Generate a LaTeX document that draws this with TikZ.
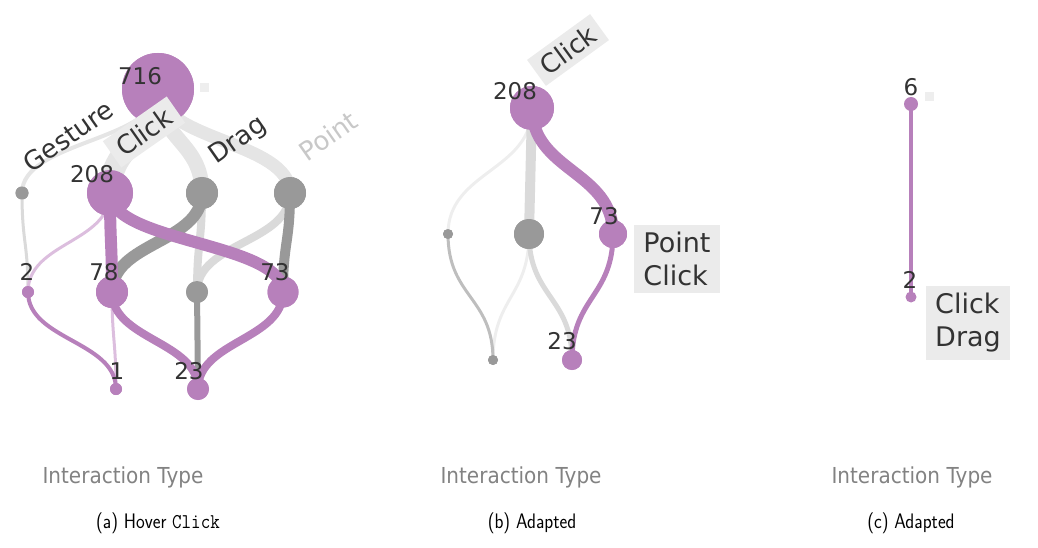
\documentclass[tikz,border=0pt]{standalone}
\usepackage{fontspec}
\newfontfamily\dejavu{DejaVu Sans}
\definecolor{purp}{RGB}{183,128,187}
\definecolor{lpurp}{RGB}{220,190,222}
\definecolor{dgrey}{RGB}{153,153,153}
\definecolor{mgrey}{RGB}{190,190,190}
\definecolor{lgrey}{RGB}{218,218,218}
\definecolor{band}{RGB}{229,229,229}
\definecolor{vlgrey}{RGB}{238,238,238}
\definecolor{boxbg}{RGB}{235,235,235}
\definecolor{txt}{RGB}{51,51,51}
\definecolor{ptxt}{RGB}{200,200,200}
\definecolor{axtxt}{RGB}{130,130,130}
\tikzset{
  nd/.style={circle, inner sep=0pt, draw=none},
  pn/.style={nd, fill=purp},
  gn/.style={nd, fill=dgrey},
  num/.style={font=\dejavu\fontsize{23}{23}\selectfont, text=txt, inner sep=0pt},
  lbl/.style={font=\dejavu\fontsize{26}{32}\selectfont, text=txt, inner sep=5pt},
  lbox/.style={font=\dejavu\fontsize{27}{33}\selectfont, text=txt, fill=boxbg, align=left, inner xsep=9pt, inner ysep=7pt},
  axtitle/.style={font=\dejavu\fontsize{22}{22}\selectfont, text=axtxt, inner sep=0pt, anchor=base, xscale=0.91},
  capt/.style={font=\sffamily\fontsize{21}{21}\selectfont, inner sep=0pt, anchor=base, xscale=0.88},
  sqr/.style={fill=vlgrey, minimum size=9pt, inner sep=0pt, draw=none},
  lnk/.style={line cap=round}
}
\begin{document}
\begin{tikzpicture}[x=1pt,y=-1pt]
\useasboundingbox (0,0) rectangle (1038,548);
% ---------------- panel (a) nodes
\node[pn, minimum size=72pt] (r) at (158,89) {};
\node[sqr] (rsq) at (204,88) {};
\node[gn, minimum size=13pt] (ge) at (22,193) {};
\node[pn, minimum size=46pt] (cl) at (110,193) {};
\node[gn, minimum size=32pt] (dr) at (202,193) {};
\node[gn, minimum size=32pt] (po) at (290,193) {};
\node[pn, minimum size=12pt] (t2) at (28,292) {};
\node[pn, minimum size=32pt] (t78) at (112,292) {};
\node[gn, minimum size=22pt] (tm) at (197,292) {};
\node[pn, minimum size=31pt] (t73) at (283,292) {};
\node[pn, minimum size=12pt] (b1) at (116,389) {};
\node[pn, minimum size=22pt] (b23) at (198,389) {};
% ---------------- panel (a) edges
\draw[lnk, band, line width=4pt] (r.center) .. controls +(0,52) and +(0,-52) .. (ge.center);
\draw[lnk, band, line width=22pt] (r.center) .. controls +(0,52) and +(0,-52) .. (cl.center);
\draw[lnk, band, line width=15pt] (r.center) .. controls +(0,52) and +(0,-52) .. (dr.center);
\draw[lnk, band, line width=13pt] (r.center) .. controls +(0,52) and +(0,-52) .. (po.center);
\draw[lnk, lgrey, line width=3pt] (ge.center) .. controls +(0,50) and +(0,-50) .. (t2.center);
\draw[lnk, lgrey, line width=8pt] (dr.center) .. controls +(0,50) and +(0,-50) .. (tm.center);
\draw[lnk, lgrey, line width=8pt] (po.center) .. controls +(0,50) and +(0,-50) .. (tm.center);
\draw[lnk, lpurp, line width=3pt] (cl.center) .. controls +(0,50) and +(0,-50) .. (t2.center);
\draw[lnk, lpurp, line width=3pt] (t78.center) .. controls +(0,48) and +(0,-48) .. (b1.center);
\draw[lnk, dgrey, line width=12pt] (dr.center) .. controls +(0,50) and +(0,-50) .. (t78.center);
\draw[lnk, dgrey, line width=10pt] (po.center) .. controls +(0,50) and +(0,-50) .. (t73.center);
\draw[lnk, dgrey, line width=6pt] (tm.center) .. controls +(0,48) and +(0,-48) .. (b23.center);
\draw[lnk, purp, line width=12pt] (cl.center) .. controls +(0,50) and +(0,-50) .. (t78.center);
\draw[lnk, purp, line width=12pt] (cl.center) .. controls +(0,50) and +(0,-50) .. (t73.center);
\draw[lnk, purp, line width=4pt] (t2.center) .. controls +(0,48) and +(0,-48) .. (b1.center);
\draw[lnk, purp, line width=8pt] (t78.center) .. controls +(0,48) and +(0,-48) .. (b23.center);
\draw[lnk, purp, line width=8pt] (t73.center) .. controls +(0,48) and +(0,-48) .. (b23.center);
% redraw nodes on top
\node[pn, minimum size=72pt] at (r) {};
\node[gn, minimum size=13pt] at (ge) {};
\node[pn, minimum size=46pt] at (cl) {};
\node[gn, minimum size=32pt] at (dr) {};
\node[gn, minimum size=32pt] at (po) {};
\node[pn, minimum size=12pt] at (t2) {};
\node[pn, minimum size=32pt] at (t78) {};
\node[gn, minimum size=22pt] at (tm) {};
\node[pn, minimum size=31pt] at (t73) {};
\node[pn, minimum size=12pt] at (b1) {};
\node[pn, minimum size=22pt] at (b23) {};
% labels (a)
\node[lbl, rotate=35] (lge) at (68,136) {Gesture};
\node[lbox, font=\dejavu\fontsize{26}{32}\selectfont, rotate=35, inner xsep=8pt, inner ysep=6pt] (lcl) at (144,132) {Click};
\node[lbl, rotate=35] (ldr) at (238,141) {Drag};
\node[lbl, rotate=35, text=ptxt] (lpo) at (328,136) {Point};
\node[num] (n716) at (140,76) {716};
\node[num] (n208) at (92,174) {208};
\node[num] (n2) at (27,272) {2};
\node[num] (n78) at (104,272) {78};
\node[num] (n73) at (275,272) {73};
\node[num] (n1) at (117,371) {1};
\node[num] (n23) at (189,371) {23};
% ---------------- panel (b)
\node[pn, minimum size=44pt] (pb) at (532,108) {};
\node[gn, minimum size=10pt] (bl) at (448,234) {};
\node[gn, minimum size=30pt] (bm) at (529,234) {};
\node[pn, minimum size=28pt] (b73) at (613,234) {};
\node[gn, minimum size=10pt] (bbl) at (493,360) {};
\node[pn, minimum size=20pt] (bb23) at (572,360) {};
\draw[lnk, vlgrey, line width=3pt] (pb.center) .. controls +(0,63) and +(0,-63) .. (bl.center);
\draw[lnk, vlgrey, line width=3pt] (bm.center) .. controls +(0,63) and +(0,-63) .. (bbl.center);
\draw[lnk, mgrey, line width=3pt] (bl.center) .. controls +(0,63) and +(0,-63) .. (bbl.center);
\draw[lnk, lgrey, line width=5pt] (bm.center) .. controls +(0,63) and +(0,-63) .. (bb23.center);
\draw[lnk, lgrey, line width=10pt] (pb.center) -- (bm.center);
\draw[lnk, purp, line width=12pt] (pb.center) .. controls +(0,63) and +(0,-63) .. (b73.center);
\draw[lnk, purp, line width=5pt] (b73.center) .. controls +(0,63) and +(0,-63) .. (bb23.center);
\node[pn, minimum size=44pt] at (pb) {};
\node[gn, minimum size=10pt] at (bl) {};
\node[gn, minimum size=30pt] at (bm) {};
\node[pn, minimum size=28pt] at (b73) {};
\node[gn, minimum size=10pt] at (bbl) {};
\node[pn, minimum size=20pt] at (bb23) {};
\node[lbox, font=\dejavu\fontsize{26}{32}\selectfont, rotate=36, inner xsep=8pt, inner ysep=6pt] (bcl) at (568,50) {Click};
\node[num] (bn208) at (515,91) {208};
\node[num] (bn73) at (604,216) {73};
\node[num] (bn23) at (562,341) {23};
\node[lbox] (bpc) at (677,259) {Point\\Click};
% ---------------- panel (c)
\node[pn, minimum size=14pt] (c6) at (911,104) {};
\node[pn, minimum size=11pt] (c2) at (911,297) {};
\node[sqr] (csq) at (929,97) {};
\draw[lnk, purp, line width=4pt] (c6.center) -- (c2.center);
\node[num] (cn6) at (911,87) {6};
\node[num] (cn2) at (910,280) {2};
\node[lbox] (ccd) at (968,323) {Click\\Drag};
% ---------------- axis titles and captions
\node[axtitle] (ax1) at (123,483) {Interaction Type};
\node[axtitle] (ax2) at (521,483) {Interaction Type};
\node[axtitle] (ax3) at (912,483) {Interaction Type};
\node[capt] (cp1) at (158,528) {(a) Hover {\ttfamily Click}};
\node[capt] (cp2) at (532,528) {(b) Adapted};
\node[capt] (cp3) at (911,528) {(c) Adapted};
\end{tikzpicture}
\end{document}
